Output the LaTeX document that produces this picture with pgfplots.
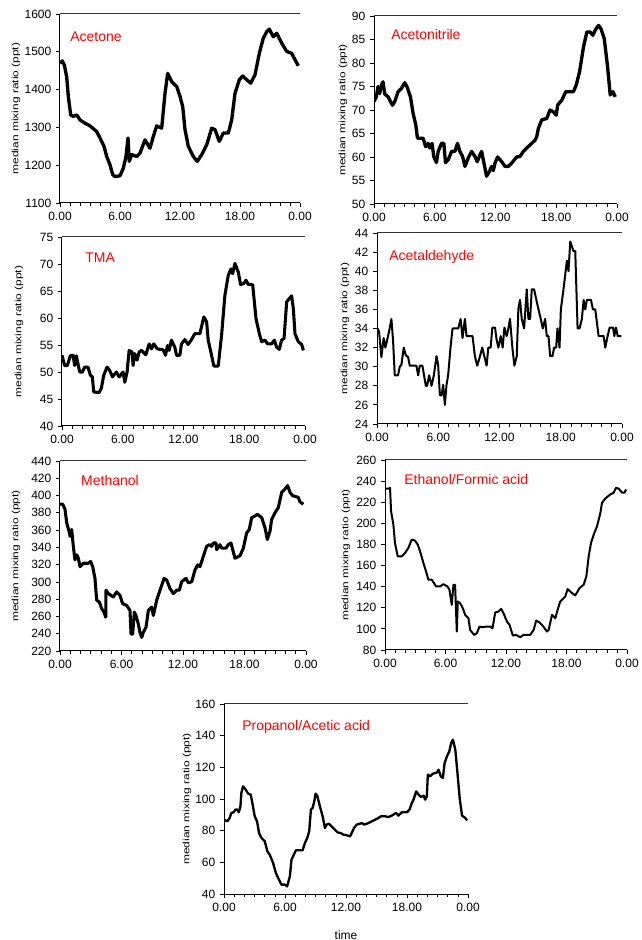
\documentclass[border=0pt]{standalone}
\usepackage{fontspec}
\setmainfont{Liberation Sans}
\newfontfamily\ylfont[FakeStretch=1.3]{Liberation Sans}
\usepackage{pgfplots}
\pgfplotsset{compat=1.18}
\pgfplotsset{
  panel/.style={
    scale only axis, anchor=south west,
    xmin=0, xmax=24,
    xtick={0,6,12,18,24}, xticklabels={0.00,6.00,12.00,18.00,0.00},
    minor xtick={1,2,3,4,5,7,8,9,10,11,13,14,15,16,17,19,20,21,22,23},
    axis lines=left, axis line style={-, line width=0.75pt},
    tick align=outside, major tick length=3pt, minor tick length=2pt,
    every tick/.style={black, line width=0.6pt},
    minor tick style={black, line width=0.5pt},
    ticklabel style={font=\fontsize{9}{10.5}\selectfont},
    yticklabel style={/pgf/number format/1000 sep={}, /pgf/number format/assume math mode=true},
    ylabel={median mixing ratio (ppt)},
    every axis y label/.style={at={(axis description cs:-#1,0.5)}, rotate=90, anchor=center, font=\ylfont\fontsize{6.9}{8}\selectfont},
  },
}
\tikzset{ttl/.style={anchor=west, inner xsep=0pt, text=red, font=\fontsize{10.5}{12}\selectfont}}
\begin{document}
\begin{tikzpicture}
\path[use as bounding box] (0,0) rectangle (481.5pt,705pt);

% Acetone
\begin{axis}[panel=0.183, at={(45pt,552.75pt)}, width=180pt, height=141.75pt,
  ymin=1100, ymax=1600, ytick distance=100]
\addplot[black, line width=2.5pt, line join=round] coordinates {
(0,1470)(0.23,1476)(0.43,1465)(0.67,1434)(0.83,1382)(1.07,1333)(1.33,1329)(1.67,1333)(2.0,1320)(2.5,1311)(3.0,1304)(3.67,1289)(4.0,1272)(4.4,1250)(4.67,1223)(5.0,1201)(5.27,1175)(5.5,1170)(6.0,1172)(6.33,1192)(6.6,1223)(6.8,1272)(6.93,1210)(7.17,1228)(7.67,1223)(8.0,1232)(8.5,1267)(9.0,1245)(9.33,1276)(9.67,1304)(10.17,1298)(10.5,1390)(10.77,1443)(11.17,1421)(11.67,1408)(12.0,1382)(12.27,1355)(12.5,1294)(12.83,1250)(13.33,1223)(13.73,1210)(14.17,1228)(14.67,1254)(15.17,1298)(15.5,1294)(15.93,1263)(16.33,1285)(16.83,1285)(17.17,1320)(17.5,1390)(17.93,1426)(18.27,1436)(18.67,1426)(19.07,1417)(19.5,1439)(19.93,1496)(20.33,1536)(20.67,1553)(20.93,1560)(21.33,1540)(21.67,1549)(22.17,1523)(22.67,1501)(23.17,1496)(23.5,1479)(23.83,1463)
};
\draw[black!80, line width=0.75pt] (rel axis cs:0,1) -- (rel axis cs:1,1);
\node[ttl] at (rel axis cs:0.042,0.878) {Acetone};
\end{axis}

% Acetonitrile
\begin{axis}[panel=0.128, at={(280.5pt,552pt)}, width=182.25pt, height=141pt,
  ymin=50, ymax=90, ytick distance=5]
\addplot[black, line width=2.5pt, line join=round] coordinates {
(0,71.8)(0.23,72.8)(0.4,75)(0.56,73.5)(0.73,75.3)(0.89,76)(1.06,73.4)(1.39,72.8)(1.82,71)(2.05,71.8)(2.38,73.9)(2.71,74.6)(3.04,75.8)(3.27,74.9)(3.6,72.8)(3.86,69.3)(4.13,66.8)(4.29,64)(4.85,64)(5.1,62.2)(5.35,62.9)(5.5,61.9)(5.74,62.9)(5.9,60.1)(6.17,58.8)(6.34,61.2)(6.67,62.9)(6.9,62.9)(7.06,58.8)(7.33,59.4)(7.66,61.2)(7.99,61.2)(8.25,62.9)(8.48,61.2)(8.75,60.1)(8.98,58)(9.31,59.8)(9.64,61.2)(9.97,60.1)(10.2,59)(10.4,60.1)(10.63,61.2)(10.86,58.7)(11.12,55.9)(11.39,56.9)(11.62,58)(11.78,57.1)(11.95,58.7)(12.21,60)(12.61,59)(12.94,58)(13.27,58)(13.6,58.7)(14.09,60)(14.42,60.1)(14.75,61.2)(15.08,61.9)(15.58,62.9)(15.91,63.6)(16.07,64.3)(16.24,66.1)(16.57,67.9)(17.06,68.2)(17.39,70)(17.72,69.6)(17.99,68.9)(18.15,71.1)(18.55,72.1)(18.94,73.9)(19.7,73.9)(19.97,75.3)(20.3,78.1)(20.69,83.4)(21.02,86.6)(21.35,86.6)(21.62,85.9)(21.85,87)(22.18,88)(22.41,87.3)(22.74,85.2)(23.07,79.2)(23.33,73.2)(23.6,73.9)(23.83,72.8)
};
\draw[black!80, line width=0.75pt] (rel axis cs:0,1) -- (rel axis cs:1,1);
\node[ttl] at (rel axis cs:0.07,0.904) {Acetonitrile};
\end{axis}

% TMA
\begin{axis}[panel=0.177, at={(46.5pt,385.5pt)}, width=182.25pt, height=141.75pt,
  ymin=40, ymax=75, ytick distance=5]
\addplot[black, line width=2.3pt, line join=round] coordinates {
(0,53.1)(0.26,51.2)(0.53,51.2)(0.82,53)(1.09,53.1)(1.25,51.2)(1.42,53)(1.58,51.5)(1.75,50)(2.01,50)(2.24,50.9)(2.57,50.9)(2.8,49.4)(3.0,49.1)(3.13,46.3)(3.66,46.2)(3.89,47)(4.12,49.4)(4.45,50.9)(4.71,50.3)(4.98,49.1)(5.37,50)(5.64,49.1)(6.03,50)(6.2,48.1)(6.43,50)(6.63,54)(6.92,53.7)(7.02,51.2)(7.19,53.4)(7.42,52.2)(7.62,53.7)(7.85,54)(8.28,53.2)(8.61,55.2)(8.84,54.3)(9.07,55.2)(9.4,54.3)(9.99,54.1)(10.22,53.1)(10.42,54.9)(10.58,54)(10.81,55.9)(11.14,54.6)(11.31,53.1)(11.64,53.1)(11.8,55.2)(12.13,56)(12.46,55.1)(12.79,56)(13.12,57.1)(13.62,57.1)(14.01,60.2)(14.28,59.3)(14.44,55.9)(14.77,53.1)(15,51.1)(15.43,51.1)(15.76,56.8)(16.09,64.2)(16.42,67.9)(16.69,69.1)(16.85,68.2)(17.08,70.1)(17.41,68.5)(17.64,66.2)(17.97,66.4)(18.17,67)(18.4,66.2)(18.83,66.2)(19.16,59.9)(19.49,57.1)(19.72,55.6)(20.05,55.9)(20.31,55.2)(20.7,55.2)(20.97,55.9)(21.2,54.6)(21.46,54.2)(21.69,55.9)(21.93,56.2)(22.19,63)(22.45,63.6)(22.68,64.1)(22.85,61.7)(23.01,57.1)(23.34,55.6)(23.67,55.1)(23.84,54)
};
\draw[black!80, line width=0.75pt] (rel axis cs:0,1) -- (rel axis cs:1,1);
\node[ttl] at (rel axis cs:0.095,0.889) {TMA};
\end{axis}

% Acetaldehyde
\begin{axis}[panel=0.131, at={(282.75pt,387pt)}, width=183.75pt, height=143.25pt,
  ymin=24, ymax=44, ytick distance=2]
\addplot[black, line width=1.5pt, line join=round] coordinates {
(0,34.1)(0.2,33.7)(0.43,31)(0.65,33)(0.82,32)(1.08,33.2)(1.24,34)(1.41,35)(1.57,32.8)(1.74,29.1)(2.06,29.1)(2.23,30)(2.39,30.2)(2.62,32)(2.82,31.2)(3.05,31)(3.21,30.1)(3.86,30.1)(4.03,29.1)(4.19,30.1)(4.45,30.1)(4.78,28)(4.91,28)(5.11,29.1)(5.34,28)(5.57,29.1)(5.83,31.1)(5.99,30.2)(6.16,27)(6.32,27)(6.48,28.1)(6.65,26)(6.81,28.1)(6.97,29.1)(7.2,32)(7.4,34)(7.96,34)(8.19,35)(8.38,33)(8.61,35)(8.77,33.2)(9.36,33.2)(9.59,31.1)(9.82,30.1)(10.09,31.1)(10.31,32)(10.51,31.1)(10.74,30.1)(10.9,32)(11.13,32)(11.3,34.1)(11.56,34.1)(11.72,32.8)(11.89,32)(12.12,33.2)(12.31,32)(12.48,34.1)(12.7,33.2)(12.87,34)(13.03,35)(13.26,32)(13.46,30.1)(13.69,31.1)(13.85,36.1)(14.01,37)(14.18,35)(14.41,34)(14.67,38.1)(14.83,35)(15,35)(15.16,38.1)(15.39,38.1)(15.65,36.8)(15.82,36)(16.04,35)(16.24,34)(16.47,35)(16.63,33.2)(16.8,33.2)(16.96,31.1)(17.19,31.1)(17.35,32)(17.55,32)(17.68,34)(17.88,32)(18.01,36)(18.27,38.1)(18.6,41.1)(18.76,40)(18.93,43.1)(19.09,42.6)(19.25,42.1)(19.42,42.1)(19.65,34)(19.84,34)(20.07,35)(20.24,37)(20.4,36)(20.56,37)(20.96,37)(21.15,36)(21.38,36)(21.71,33.2)(22.2,33.2)(22.36,32)(22.59,33.2)(22.79,34.1)(23.12,34.1)(23.25,33.2)(23.41,34.1)(23.58,33.2)(23.94,33.2)
};
\draw[black!80, line width=0.75pt] (rel axis cs:0,1) -- (rel axis cs:1,1);
\node[ttl] at (rel axis cs:0.049,0.874) {Acetaldehyde};
\end{axis}

% Methanol
\begin{axis}[panel=0.179, at={(45pt,216.75pt)}, width=184.5pt, height=142.5pt,
  ymin=220, ymax=440, ytick distance=20]
\addplot[black, line width=2.3pt, line join=round] coordinates {
(0,390)(0.26,390)(0.49,384.1)(0.65,368.5)(0.88,358.8)(0.98,352.9)(1.14,360.7)(1.3,341.2)(1.46,325.6)(1.63,331.4)(1.79,327.5)(1.95,317.7)(2.28,321.6)(2.76,321.6)(2.99,323.6)(3.19,317.7)(3.41,304.1)(3.58,278.7)(3.84,276.7)(4.07,268.9)(4.29,265)(4.46,259.1)(4.49,290.4)(4.72,286.5)(5.2,282.6)(5.53,288.4)(5.85,284.5)(6.11,274.8)(6.5,272.8)(6.83,266.9)(6.93,239.6)(7.09,239.6)(7.25,265)(7.41,261.1)(7.64,251.3)(7.8,241.6)(7.97,235.7)(8.13,241.6)(8.39,247.4)(8.62,266.9)(8.94,270.9)(9.11,261.1)(9.43,278.7)(9.76,290.4)(10.15,304.1)(10.41,302.1)(10.73,292.3)(11.06,286.5)(11.38,290.4)(11.64,290.4)(11.87,300.2)(12.29,304.1)(12.52,299)(12.85,300.2)(13.17,313.8)(13.43,319.7)(13.66,317.7)(13.98,329.5)(14.31,341.2)(14.57,343.1)(14.8,341.2)(14.96,345.1)(15.22,345.1)(15.28,337.3)(15.61,343.1)(15.77,339.2)(16.2,339.2)(16.42,343.1)(16.68,345.1)(17.07,327.5)(17.56,330.2)(17.89,339.2)(18.21,356.8)(18.47,360.7)(18.7,374.4)(19.02,376.3)(19.25,378.3)(19.68,374.4)(20,362.7)(20.23,349)(20.49,358.8)(20.65,372.4)(20.98,380.2)(21.3,386.1)(21.63,403.7)(21.95,407.6)(22.21,411.5)(22.44,403.7)(22.7,399.8)(23.25,397.9)(23.41,392.7)(23.74,390)
};
\draw[black!80, line width=0.75pt] (rel axis cs:0,1) -- (rel axis cs:1,1);
\node[ttl] at (rel axis cs:0.085,0.9) {Methanol};
\end{axis}

% Ethanol/Formic acid
\begin{axis}[panel=0.161, at={(288.75pt,217.5pt)}, width=181.5pt, height=142.5pt,
  ymin=80, ymax=260, ytick distance=20]
\addplot[black, line width=1.5pt, line join=round] coordinates {
(0,232.8)(0.4,232.8)(0.5,233.7)(0.6,211.5)(0.83,198.8)(0.99,181.4)(1.26,168.7)(1.66,168.7)(1.99,171.9)(2.32,176.7)(2.65,184.6)(2.98,183.6)(3.25,179.8)(3.48,173.5)(3.81,162.4)(4.07,154.5)(4.3,146.6)(4.64,146.6)(5.07,140.2)(5.46,140.2)(5.79,142.4)(6.19,140.2)(6.39,137.1)(6.62,122.8)(6.79,141.8)(6.95,141.8)(7.12,97.5)(7.22,126)(7.45,124.4)(7.72,119.6)(7.95,113.3)(8.28,110.1)(8.44,99)(8.84,94.3)(9.11,95.9)(9.37,102.2)(9.6,101.6)(10.1,102.2)(10.43,102.2)(10.66,100.6)(10.93,115.5)(11.26,116.5)(11.52,119)(11.75,114.9)(12.09,107)(12.35,103.8)(12.68,93.7)(13.01,94.3)(13.41,92.1)(13.74,94.3)(14.14,94.3)(14.4,94.3)(14.74,99)(15,107.9)(15.33,106)(15.66,102.8)(16.06,97.5)(16.23,99)(16.56,113.3)(16.89,110.1)(17.12,118.1)(17.38,126)(17.88,130.7)(18.11,137.7)(18.44,134.8)(18.87,131.7)(19.3,138.7)(19.7,141.8)(19.97,149.7)(20.2,168.7)(20.43,181.4)(20.7,189.3)(21.03,197.3)(21.36,209.9)(21.52,219.4)(21.85,223.6)(22.35,227.4)(22.68,229)(22.91,233.7)(23.18,232.8)(23.51,229)(23.74,229)(23.91,232.1)
};
\draw[black!80, line width=0.75pt] (rel axis cs:0,1) -- (rel axis cs:1,1);
\node[ttl] at (rel axis cs:0.079,0.9) {Ethanol/Formic acid};
\end{axis}

% Propanol/Acetic acid
\begin{axis}[panel=0.152, at={(168pt,34.5pt)}, width=183pt, height=142.5pt,
  ymin=40, ymax=160, ytick distance=20,
  xlabel={time}, every axis x label/.style={at={(axis description cs:0.5,-0.216)}, anchor=center, font=\fontsize{9}{10.5}\selectfont}]
\addplot[black, line width=1.75pt, line join=round] coordinates {
(0,86.9)(0.33,85.9)(0.56,88)(0.72,91.2)(0.95,91.6)(1.12,93.3)(1.31,93.3)(1.45,91.6)(1.61,95)(1.71,103.8)(1.87,108)(2.14,105.9)(2.37,103.4)(2.63,102.7)(2.79,97.5)(3.02,89.1)(3.25,85.9)(3.45,78.5)(3.68,75.4)(4.01,73.3)(4.27,66.9)(4.5,64.8)(4.83,59.6)(5.1,53.3)(5.33,50.1)(5.65,45.9)(5.98,45.9)(6.21,44.8)(6.48,51.2)(6.64,61.7)(6.87,64.8)(7.07,67.6)(7.73,67.6)(7.96,72.2)(8.19,75.4)(8.38,79.6)(8.55,93.3)(8.71,94.3)(8.88,98.5)(9.01,103.4)(9.17,102.1)(9.43,95.4)(9.7,89.1)(9.93,81.7)(10.09,83.8)(10.32,84.4)(10.59,82.7)(10.91,80.6)(11.18,78.9)(11.47,78.5)(11.74,77.5)(12.07,77.1)(12.4,76.4)(12.56,78.5)(12.79,81.7)(13.05,83.8)(13.38,84.4)(13.54,84.8)(13.81,83.8)(14.2,84.8)(14.53,85.9)(14.86,86.9)(15.19,88)(15.45,89.1)(15.85,89.1)(16.17,88.6)(16.5,89.5)(16.76,90.5)(16.92,91.2)(17.16,89.5)(17.49,91.6)(17.98,91.6)(18.25,93.3)(18.48,97.5)(18.64,99.6)(18.91,104.8)(19.14,102.7)(19.37,101.3)(19.63,102.1)(19.79,99.6)(19.95,101.7)(20.05,115.4)(20.28,114.3)(20.55,116)(20.78,116.4)(20.94,116.8)(21.1,118.5)(21.33,114.3)(21.53,113.3)(21.7,122.7)(21.93,127)(22.16,130.1)(22.35,135.4)(22.52,137.5)(22.75,131.2)(22.98,115.4)(23.18,100.6)(23.41,89.5)(23.74,88)(23.9,86.5)
};
\draw[black!80, line width=0.75pt] (rel axis cs:0,1) -- (rel axis cs:1,1);
\node[ttl] at (rel axis cs:0.074,0.879) {Propanol/Acetic acid};
\end{axis}
\end{tikzpicture}
\end{document}
